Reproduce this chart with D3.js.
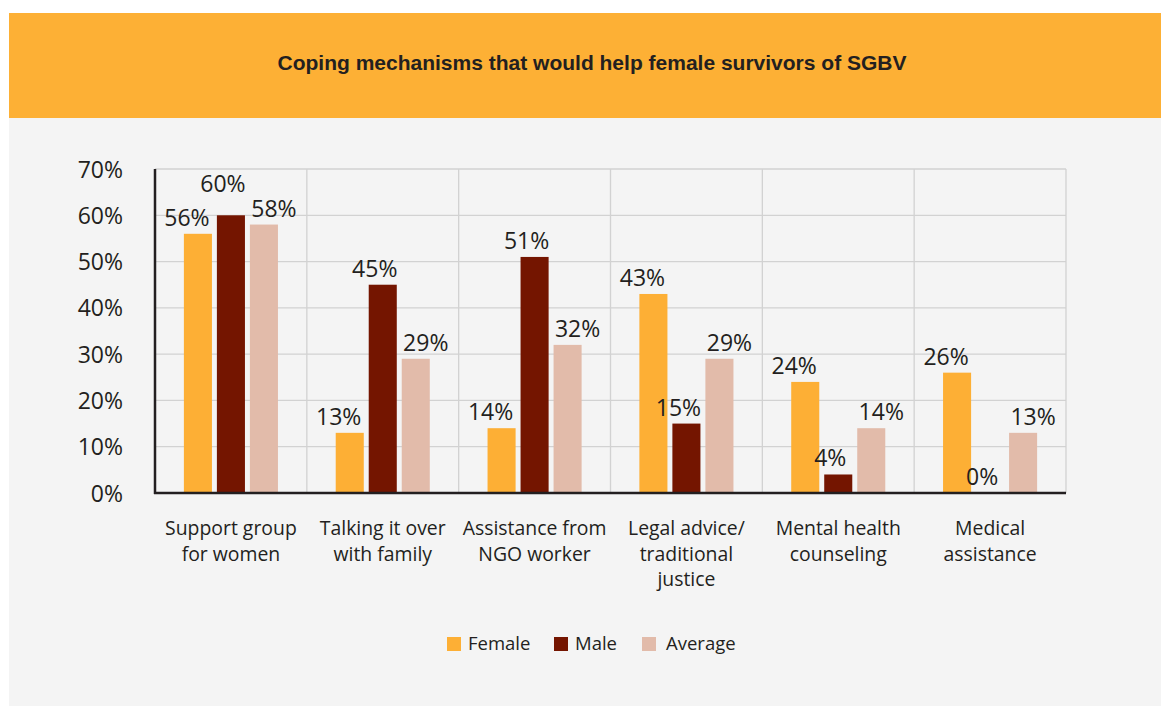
<!DOCTYPE html>
<html>
<head>
<meta charset="utf-8">
<script src="https://cdn.jsdelivr.net/npm/d3@7"></script>
<style>
  html, body { margin: 0; padding: 0; background: #ffffff; }
  svg { display: block; }
</style>
</head>
<body>
<svg id="chart" width="1161" height="706"></svg>
<script>
// Chart data
const categories = [
  ["Support group", "for women"],
  ["Talking it over", "with family"],
  ["Assistance from", "NGO worker"],
  ["Legal advice/", "traditional", "justice"],
  ["Mental health", "counseling"],
  ["Medical", "assistance"]
];
const seriesNames = ["Female", "Male", "Average"];
const femaleValues = [56, 13, 14, 43, 24, 26];
const maleValues = [60, 45, 51, 15, 4, 0];
const averageValues = [58, 29, 32, 29, 14, 13];
const yTicks = [0, 10, 20, 30, 40, 50, 60, 70];
const title = "Coping mechanisms that would help female survivors of SGBV";

const colors = ["#FDAF35", "#741500", "#E2BBAA"];
const labelShift = [-11, -8, 10];
const seriesValues = [femaleValues, maleValues, averageValues];

const svg = d3.select("#chart");
const W = 1161, H = 706;
const textFont = "'Open Sans', 'Noto Sans', sans-serif";

// Panel background and header band
svg.append("rect").attr("x", 9).attr("y", 13).attr("width", W - 9).attr("height", H - 13).attr("fill", "#F4F4F4");
svg.append("rect").attr("x", 9).attr("y", 13).attr("width", W - 9).attr("height", 105).attr("fill", "#FDB035");
svg.append("text")
  .attr("x", 592).attr("y", 70)
  .attr("text-anchor", "middle")
  .attr("font-family", "'Liberation Sans', Arial, sans-serif")
  .attr("font-weight", "bold")
  .attr("font-size", 21)
  .attr("fill", "#231F20")
  .text(title);

// Plot area
const plotLeft = 155, plotRight = 1066, plotTop = 169, plotBottom = 493;

const x0 = d3.scaleBand().domain(d3.range(categories.length)).range([plotLeft, plotRight]).paddingInner(0).paddingOuter(0);
const x1 = d3.scaleBand().domain(d3.range(seriesNames.length)).range([0, x0.bandwidth()]).paddingInner(0.15).paddingOuter(0.875);
const y = d3.scaleLinear().domain([0, 70]).range([plotBottom, plotTop]);

const grid = svg.append("g");
// horizontal gridlines
grid.selectAll("line.h").data(yTicks.filter(t => t > 0)).enter().append("line")
  .attr("x1", plotLeft).attr("x2", plotRight)
  .attr("y1", d => y(d)).attr("y2", d => y(d))
  .attr("stroke", "#D2D2D2").attr("stroke-width", 1.3);
// vertical category separators
grid.selectAll("line.v").data(d3.range(1, categories.length + 1)).enter().append("line")
  .attr("x1", d => x0(d) !== undefined ? x0(d) : plotRight)
  .attr("x2", d => x0(d) !== undefined ? x0(d) : plotRight)
  .attr("y1", plotTop).attr("y2", plotBottom)
  .attr("stroke", "#D2D2D2").attr("stroke-width", 1.3);

// Y axis tick labels
const yAxis = d3.axisLeft(y).tickValues(yTicks).tickFormat(d => d + "%").tickSize(0).tickPadding(0);
const yg = svg.append("g").attr("transform", `translate(${123},0)`).call(yAxis);
yg.select(".domain").remove();
yg.selectAll("text")
  .attr("font-family", textFont)
  .attr("font-size", 23)
  .attr("fill", "#231F20")
  .attr("dy", "0.35em");

// Bars
const groups = svg.append("g").selectAll("g").data(categories).enter().append("g")
  .attr("transform", (d, i) => `translate(${x0(i)},0)`);

groups.selectAll("rect").data((d, i) => seriesValues.map((vals, s) => ({ s, v: vals[i] }))).enter().append("rect")
  .attr("x", d => x1(d.s))
  .attr("width", x1.bandwidth())
  .attr("y", d => y(d.v))
  .attr("height", d => plotBottom - y(d.v))
  .attr("fill", d => colors[d.s]);

// Value labels, lifted when they would collide with a neighbouring label
groups.each(function (d, i) {
  const g = d3.select(this);
  const placed = [];
  seriesValues.forEach((vals, s) => {
    const v = vals[i];
    const t = g.append("text")
      .attr("class", "val")
      .attr("x", x1(s) + x1.bandwidth() / 2 + labelShift[s])
      .attr("y", y(v) - 8)
      .attr("text-anchor", "middle")
      .attr("font-family", textFont)
      .attr("font-size", 23)
      .attr("fill", "#231F20")
      .text(v + "%");
    let b = t.node().getBBox();
    placed.forEach(p => {
      const overlapX = b.x < p.x + p.width && p.x < b.x + b.width;
      const overlapY = b.y < p.y + p.height && p.y < b.y + b.height;
      if (overlapX && overlapY) {
        const lift = (b.y + b.height) - p.y + 2;
        t.attr("y", +t.attr("y") - lift);
        b = t.node().getBBox();
      }
    });
    placed.push(b);
  });
});

// Axis lines
svg.append("line").attr("x1", plotLeft).attr("x2", plotLeft).attr("y1", plotTop).attr("y2", plotBottom + 1)
  .attr("stroke", "#231F20").attr("stroke-width", 2.5);
svg.append("line").attr("x1", plotLeft - 1).attr("x2", plotRight).attr("y1", plotBottom).attr("y2", plotBottom)
  .attr("stroke", "#231F20").attr("stroke-width", 2.5);

// Category labels
groups.each(function (lines, i) {
  const t = d3.select(this).append("text")
    .attr("text-anchor", "middle")
    .attr("font-family", textFont)
    .attr("font-size", 19.4)
    .attr("fill", "#231F20");
  lines.forEach((ln, k) => {
    t.append("tspan").attr("x", x0.bandwidth() / 2).attr("y", 535 + k * 25.5).text(ln);
  });
});

// Legend
const legendX = [447, 554, 642];
const legend = svg.append("g").selectAll("g").data(seriesNames).enter().append("g")
  .attr("transform", (d, i) => `translate(${legendX[i]},637)`);
legend.append("rect").attr("width", 14).attr("height", 14).attr("fill", (d, i) => colors[i]);
legend.append("text")
  .attr("x", (d, i) => i === 2 ? 24 : 21).attr("y", 13)
  .attr("font-family", textFont)
  .attr("font-size", 18.5)
  .attr("fill", "#231F20")
  .text(d => d);
</script>
</body>
</html>
